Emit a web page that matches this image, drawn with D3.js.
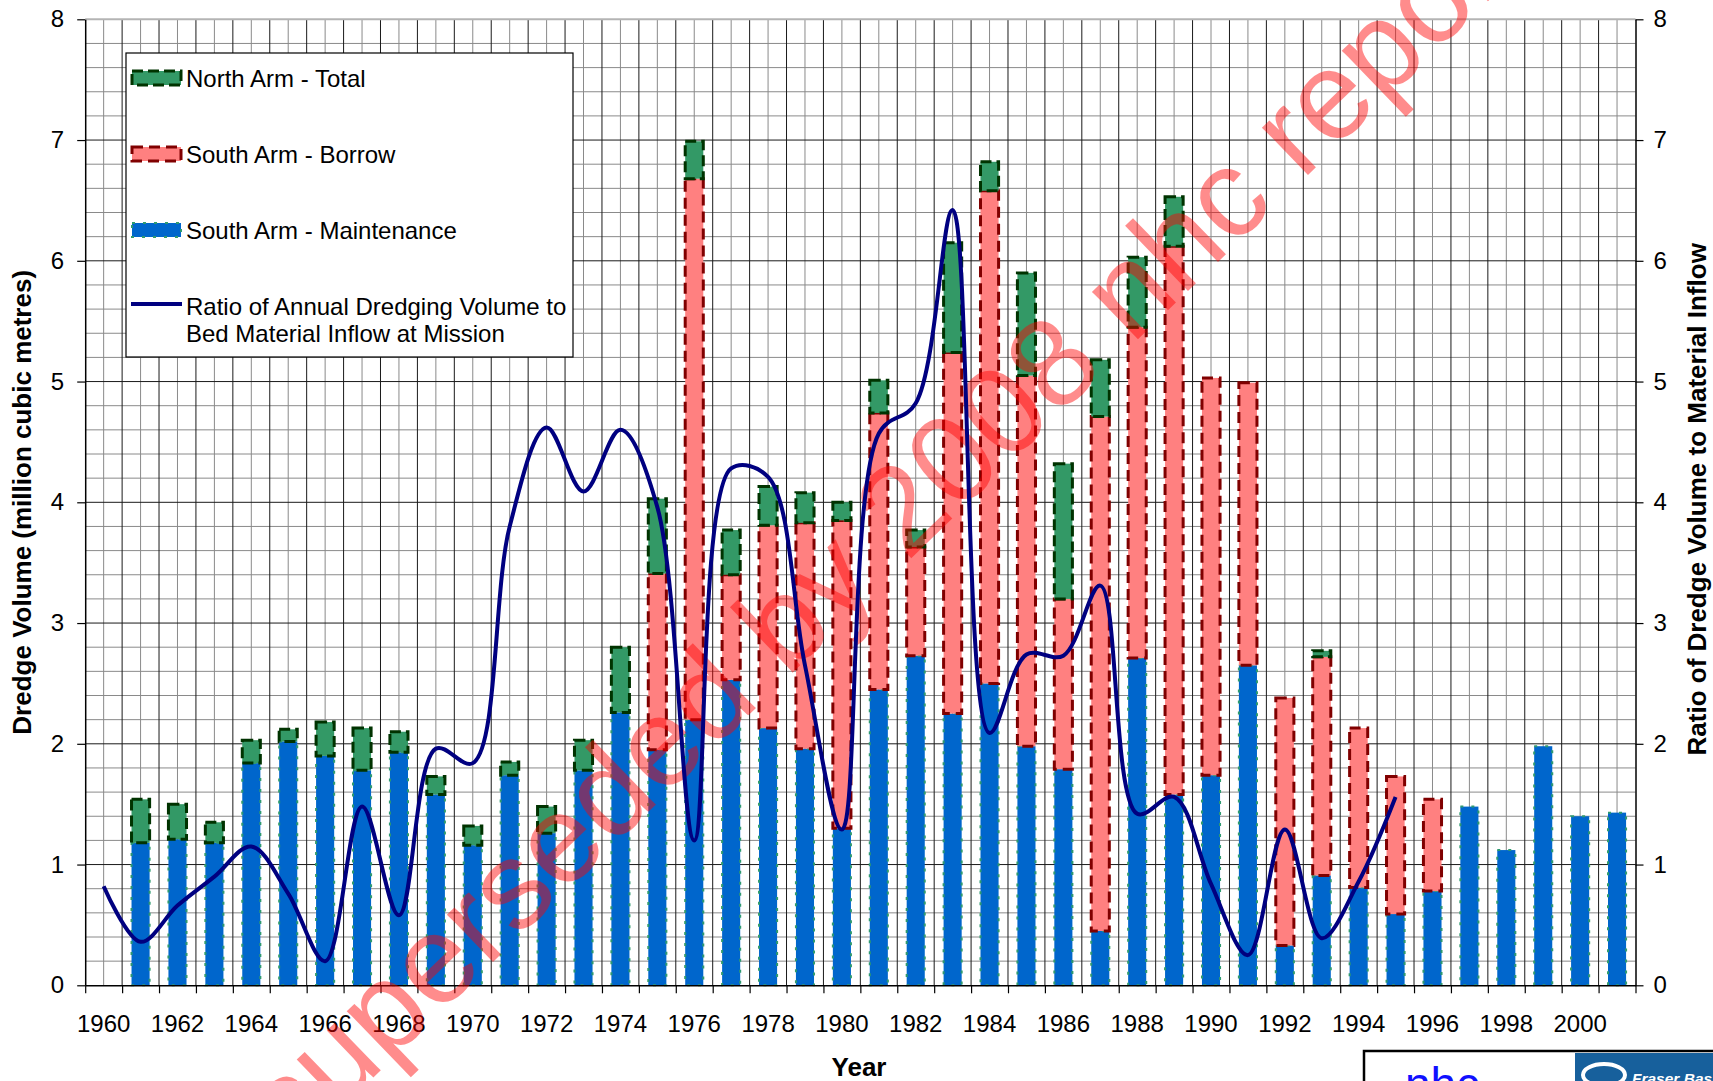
<!DOCTYPE html>
<html>
<head>
<meta charset="utf-8">
<script src="https://cdn.jsdelivr.net/npm/d3@7"></script>
<style>
  body { margin: 0; background: #fff; }
  svg { display: block; font-family: "Liberation Sans", Arial, sans-serif; }
</style>
</head>
<body>
<svg id="chart"></svg>
<script>
// data (million m3, and ratio on the right axis)
const categories = [1960, 1961, 1962, 1963, 1964, 1965, 1966, 1967, 1968, 1969, 1970,
                    1971, 1972, 1973, 1974, 1975, 1976, 1977, 1978, 1979, 1980,
                    1981, 1982, 1983, 1984, 1985, 1986, 1987, 1988, 1989, 1990,
                    1991, 1992, 1993, 1994, 1995, 1996, 1997, 1998, 1999, 2000, 2001];
const years = [1961, 1962, 1963, 1964, 1965, 1966, 1967, 1968, 1969, 1970,
               1971, 1972, 1973, 1974, 1975, 1976, 1977, 1978, 1979, 1980,
               1981, 1982, 1983, 1984, 1985, 1986, 1987, 1988, 1989, 1990,
               1991, 1992, 1993, 1994, 1995, 1996, 1997, 1998, 1999, 2000, 2001];
const maintenance = [1.18, 1.21, 1.18, 1.84, 2.02, 1.90, 1.78, 1.93, 1.58, 1.16,
                     1.74, 1.26, 1.78, 2.26, 1.95, 2.20, 2.53, 2.13, 1.96, 1.30,
                     2.45, 2.73, 2.25, 2.50, 1.98, 1.79, 0.45, 2.71, 1.58, 1.74,
                     2.65, 0.33, 0.91, 0.81, 0.59, 0.78, 1.48, 1.12, 1.98, 1.40, 1.43];
const borrow = [0, 0, 0, 0, 0, 0, 0, 0, 0, 0,
                0, 0, 0, 0, 1.46, 4.48, 0.87, 1.68, 1.87, 2.55,
                2.29, 0.90, 2.99, 4.08, 3.07, 1.41, 4.26, 2.74, 4.54, 3.29,
                2.34, 2.05, 1.81, 1.32, 1.14, 0.76, 0, 0, 0, 0, 0];
const northArm = [0.36, 0.29, 0.17, 0.19, 0.10, 0.28, 0.35, 0.17, 0.15, 0.16,
                  0.11, 0.22, 0.25, 0.54, 0.62, 0.31, 0.37, 0.32, 0.25, 0.15,
                  0.27, 0.14, 0.91, 0.24, 0.85, 1.12, 0.47, 0.58, 0.41, 0,
                  0, 0, 0.05, 0, 0, 0, 0, 0, 0, 0, 0];
const ratioYears = [1960, 1961, 1962, 1963, 1964, 1965, 1966, 1967, 1968, 1969,
                    1970, 1971, 1972, 1973, 1974, 1975, 1976, 1977, 1978, 1979,
                    1980, 1981, 1982, 1983, 1984, 1985, 1986, 1987, 1988, 1989,
                    1990, 1991, 1992, 1993, 1994, 1995];
const ratio = [0.82, 0.36, 0.66, 0.90, 1.15, 0.76, 0.20, 1.48, 0.58, 1.96,
               1.84, 3.80, 4.62, 4.09, 4.60, 3.96, 1.20, 4.28, 4.21, 2.65,
               1.29, 4.57, 4.82, 6.42, 2.09, 2.74, 2.73, 3.31, 1.42, 1.56,
               0.84, 0.25, 1.29, 0.39, 0.86, 1.56];
const yearLabels = [1960, 1962, 1964, 1966, 1968, 1970, 1972, 1974, 1976, 1978, 1980,
                    1982, 1984, 1986, 1988, 1990, 1992, 1994, 1996, 1998, 2000];
const yTicks = [0, 1, 2, 3, 4, 5, 6, 7, 8];

const margin = {top: 19.3, right: 77.5, bottom: 95.7, left: 85.2};
const W = 1713, H = 1081;
const width = W - margin.left - margin.right;
const height = H - margin.top - margin.bottom;

const root = d3.select("#chart").attr("width", W).attr("height", H);
const svg = root.append("g").attr("transform", `translate(${margin.left},${margin.top})`);

const xCat = d3.scaleBand().domain(categories).range([0, width]);
const xBar = d3.scaleBand().domain(categories).range([0, width]).paddingInner(0.51).paddingOuter(0.255);
const xEdge = d3.scaleLinear().domain([1960, 2002]).range([0, width]);
const y = d3.scaleLinear().domain([0, 8]).range([height, 0]);
const y2 = d3.scaleLinear().domain([0, 8]).range([height, 0]);
const mid = d => xCat(d) + xCat.bandwidth() / 2;

// grid
const grid = svg.append("g");
grid.selectAll(".hminor")
  .data(d3.range(1, 40).filter(i => i % 5 !== 0).map(i => i * 0.2))
  .enter().append("line")
  .attr("x1", 0).attr("x2", width)
  .attr("y1", d => y(d)).attr("y2", d => y(d))
  .attr("stroke", "#8a8a8a").attr("stroke-width", 1);
grid.selectAll(".vminor")
  .data(categories)
  .enter().append("line")
  .attr("x1", d => mid(d)).attr("x2", d => mid(d))
  .attr("y1", 0).attr("y2", height)
  .attr("stroke", "#8a8a8a").attr("stroke-width", 1);
grid.selectAll(".vmajor")
  .data(d3.range(1961, 2002))
  .enter().append("line")
  .attr("x1", d => xEdge(d)).attr("x2", d => xEdge(d))
  .attr("y1", 0).attr("y2", height)
  .attr("stroke", "#1a1a1a").attr("stroke-width", 1);
grid.selectAll(".hmajor")
  .data([1, 2, 3, 4, 5, 6, 7])
  .enter().append("line")
  .attr("x1", 0).attr("x2", width)
  .attr("y1", d => y(d)).attr("y2", d => y(d))
  .attr("stroke", "#1a1a1a").attr("stroke-width", 1);
grid.append("line")
  .attr("x1", 0).attr("x2", width)
  .attr("y1", y(8)).attr("y2", y(8))
  .attr("stroke", "#b4b4b4").attr("stroke-width", 2);

// stacked bars
const table = years.map((yr, i) => ({year: yr, maintenance: maintenance[i], borrow: borrow[i], north: northArm[i]}));
const stack = d3.stack().keys(["maintenance", "borrow", "north"]);
const styles = {
  maintenance: {fill: "#0066CC", stroke: "#2f9a70", dash: "3,8", sw: 2},
  borrow: {fill: "#FF8080", stroke: "#800000", dash: "11,6", sw: 3},
  north: {fill: "#339966", stroke: "#003300", dash: "11,5", sw: 3}
};
svg.append("g").selectAll("g")
  .data(stack(table))
  .enter().append("g")
  .each(function(layer) {
    const s = styles[layer.key];
    d3.select(this).selectAll("rect")
      .data(layer.filter(d => d[1] - d[0] > 0.001))
      .enter().append("rect")
      .attr("x", d => xBar(d.data.year))
      .attr("width", xBar.bandwidth())
      .attr("y", d => y(d[1]))
      .attr("height", d => y(d[0]) - y(d[1]))
      .attr("fill", s.fill)
      .attr("stroke", s.stroke)
      .attr("stroke-width", s.sw)
      .attr("stroke-dasharray", s.dash);
  });

// axes
const yAxisL = svg.append("g")
  .call(d3.axisLeft(y).tickValues(yTicks).tickSize(8).tickSizeOuter(0).tickPadding(13));
const yAxisR = svg.append("g")
  .attr("transform", `translate(${width},0)`)
  .call(d3.axisRight(y2).tickValues(yTicks).tickSize(8).tickSizeOuter(0).tickPadding(10));
const xTicks = svg.append("g")
  .attr("transform", `translate(0,${height})`)
  .call(d3.axisBottom(xEdge).tickValues(d3.range(1960, 2003)).tickSize(8).tickSizeOuter(0).tickFormat(""));
const xLabels = svg.append("g")
  .attr("transform", `translate(0,${height})`)
  .call(d3.axisBottom(xCat).tickValues(yearLabels).tickSize(0).tickPadding(30));
xLabels.select(".domain").remove();
[yAxisL, yAxisR, xTicks, xLabels].forEach(a => {
  a.selectAll("text").attr("font-size", 24).attr("fill", "#000")
    .attr("font-family", "'Liberation Sans', Arial, sans-serif");
  a.selectAll("line").attr("stroke", "#000").attr("stroke-width", 1.2);
  a.select(".domain").attr("stroke", "#000").attr("stroke-width", 1.5);
});

// watermark
svg.append("text")
  .attr("transform", `translate(${884 - margin.left},${524 - margin.top}) rotate(-44)`)
  .attr("text-anchor", "middle")
  .attr("dominant-baseline", "central")
  .attr("font-size", 125)
  .attr("fill", "#ff0000")
  .attr("fill-opacity", 0.45)
  .text("superseded by 2008 nhc report");

// ratio line
const line = d3.line()
  .x(d => mid(d.year))
  .y(d => y2(d.value))
  .curve(d3.curveCatmullRom.alpha(0.5));
svg.append("path")
  .datum(ratioYears.map((yr, i) => ({year: yr, value: ratio[i]})))
  .attr("d", line)
  .attr("fill", "none")
  .attr("stroke", "#000080")
  .attr("stroke-width", 4);

// axis titles
root.append("text")
  .attr("transform", `translate(31,${margin.top + height / 2}) rotate(-90)`)
  .attr("text-anchor", "middle")
  .attr("font-size", 26).attr("font-weight", "bold")
  .text("Dredge Volume (million cubic metres)");
root.append("text")
  .attr("transform", `translate(1706,${margin.top + height / 2 - 3}) rotate(-90)`)
  .attr("text-anchor", "middle")
  .attr("font-size", 26).attr("font-weight", "bold")
  .text("Ratio of Dredge Volume to Material Inflow");
root.append("text")
  .attr("x", 859).attr("y", 1076)
  .attr("text-anchor", "middle")
  .attr("font-size", 26).attr("font-weight", "bold")
  .text("Year");

// legend
const legend = root.append("g");
legend.append("rect")
  .attr("x", 126).attr("y", 53).attr("width", 447).attr("height", 304)
  .attr("fill", "#fff").attr("stroke", "#000").attr("stroke-width", 1.2);
const legendItems = [
  {key: "north", label: ["North Arm - Total"], y: 78},
  {key: "borrow", label: ["South Arm - Borrow"], y: 154},
  {key: "maintenance", label: ["South Arm - Maintenance"], y: 230},
  {key: "ratio", label: ["Ratio of Annual Dredging Volume to", "Bed Material Inflow at Mission"], y: 304}
];
legendItems.forEach(it => {
  if (it.key === "ratio") {
    legend.append("line")
      .attr("x1", 131).attr("x2", 182).attr("y1", it.y).attr("y2", it.y)
      .attr("stroke", "#000080").attr("stroke-width", 4);
  } else {
    const s = styles[it.key];
    legend.append("rect")
      .attr("x", 132).attr("y", it.y - 7).attr("width", 49).attr("height", 14)
      .attr("fill", s.fill).attr("stroke", s.stroke)
      .attr("stroke-width", s.sw).attr("stroke-dasharray", s.dash);
  }
  it.label.forEach((t, j) => {
    legend.append("text")
      .attr("x", 186).attr("y", it.y + 8.5 + (it.key === "ratio" ? 2 + j * 27 : 0))
      .attr("font-size", 24)
      .text(t);
  });
});

// logo box, bottom right
const logo = root.append("g");
logo.append("rect")
  .attr("x", 1364).attr("y", 1051).attr("width", 400).attr("height", 60)
  .attr("fill", "#fff").attr("stroke", "#000").attr("stroke-width", 2.5);
logo.append("text")
  .attr("x", 1405).attr("y", 1100)
  .attr("font-size", 46).attr("fill", "#1010ff")
  .text("nhc");
logo.append("rect")
  .attr("x", 1575).attr("y", 1053).attr("width", 140).attr("height", 40)
  .attr("fill", "#17609c");
logo.append("ellipse")
  .attr("cx", 1604).attr("cy", 1075).attr("rx", 21).attr("ry", 11)
  .attr("fill", "none").attr("stroke", "#fff").attr("stroke-width", 4);
logo.append("text")
  .attr("x", 1632).attr("y", 1084)
  .attr("font-size", 15.5).attr("font-style", "italic").attr("font-weight", "bold")
  .attr("fill", "#fff")
  .text("Fraser Basin");
</script>
</body>
</html>
